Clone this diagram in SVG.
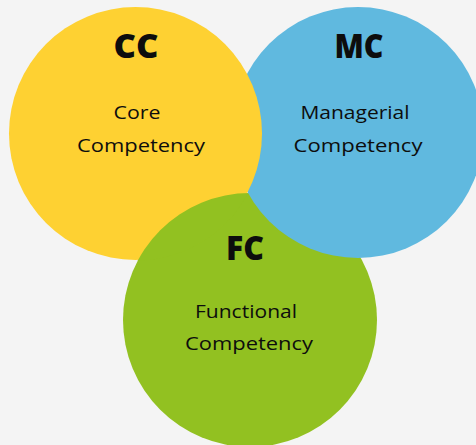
<svg xmlns="http://www.w3.org/2000/svg" width="476" height="445" viewBox="0 0 476 445">
<style>
.t{font-family:"Open Sans","Liberation Sans",sans-serif;fill:#0d0d0d;text-anchor:middle}
.h{font-size:33px;font-weight:800}
.l{font-size:19px}
</style>
<defs>
<clipPath id="clipY"><circle cx="135.5" cy="133.5" r="127.3"/></clipPath>
</defs>
<rect width="476" height="445" fill="#f4f4f4"/>
<g id="node-fc">
<circle cx="250" cy="320" r="127" fill="#92c121"/>
</g>
<g id="node-mc">
<circle cx="358" cy="132.5" r="125.5" fill="#60b9df"/>
<text class="t h" x="359" y="58" textLength="49" lengthAdjust="spacingAndGlyphs">MC</text>
<text class="t l" x="355" y="119" textLength="109" lengthAdjust="spacingAndGlyphs">Managerial</text>
<text class="t l" x="358" y="152" textLength="129" lengthAdjust="spacingAndGlyphs">Competency</text>
</g>
<g id="node-cc">
<circle cx="135.5" cy="133.5" r="126.5" fill="#fed132"/>
<text class="t h" x="136" y="58" textLength="45" lengthAdjust="spacingAndGlyphs">CC</text>
<text class="t l" x="137" y="119" textLength="47" lengthAdjust="spacingAndGlyphs">Core</text>
<text class="t l" x="141" y="152" textLength="128" lengthAdjust="spacingAndGlyphs">Competency</text>
</g>
<g id="node-fc-overlap">
<circle cx="250" cy="320" r="127" fill="#92c121" clip-path="url(#clipY)"/>
<text class="t h" x="245" y="260" textLength="38" lengthAdjust="spacingAndGlyphs">FC</text>
<text class="t l" x="246" y="318" textLength="102" lengthAdjust="spacingAndGlyphs">Functional</text>
<text class="t l" x="249" y="350" textLength="128" lengthAdjust="spacingAndGlyphs">Competency</text>
</g>
</svg>
